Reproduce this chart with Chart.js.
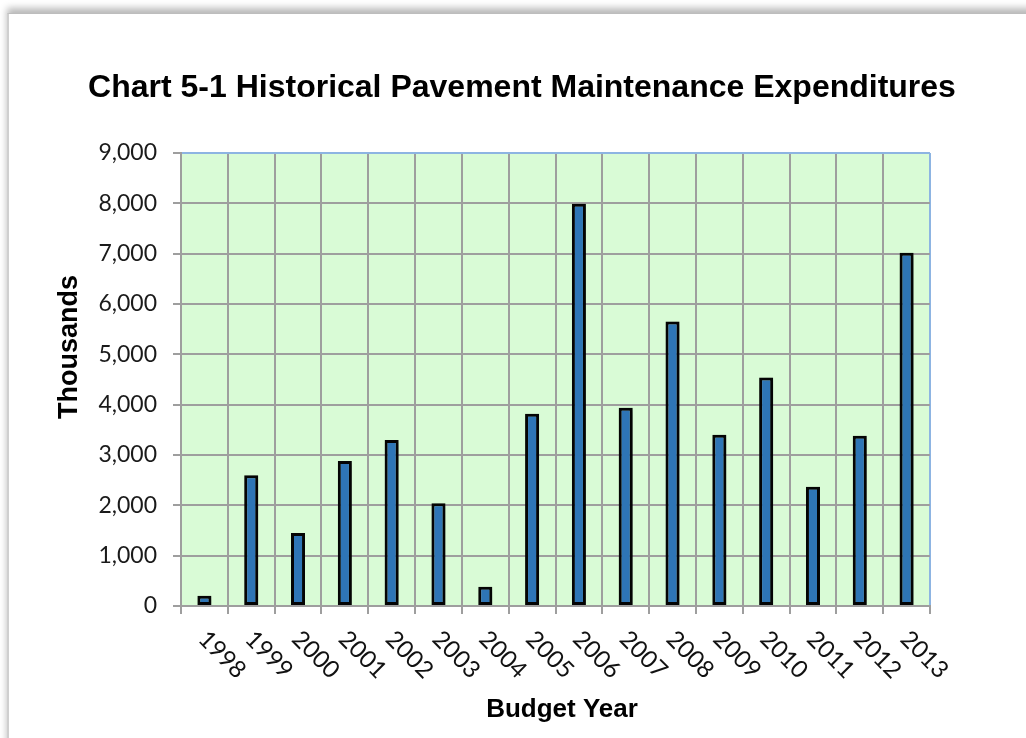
<!DOCTYPE html>
<html>
<head>
<meta charset="utf-8">
<script src="https://cdn.jsdelivr.net/npm/chart.js@4/dist/chart.umd.min.js"></script>
<style>
    html, body { margin: 0; padding: 0; background: #ffffff; width: 1026px; height: 738px; overflow: hidden; }
    #frame {
        position: absolute; left: 7px; top: 13px; width: 1030px; height: 740px;
        background: #ffffff;
        border-left: 2px solid #cfcfcf;
        border-top: 1px solid #bdbdbd;
        box-shadow: 0 -5px 7px rgba(0,0,0,0.28);
    }
    #chart { position: absolute; left: 0; top: 0; }
</style>
</head>
<body>
<div id="frame"></div>
<canvas id="chart" width="1026" height="738"></canvas>
<script>
    var titleText = 'Chart 5-1 Historical Pavement Maintenance Expenditures';
    var yTitle = 'Thousands';
    var xTitle = 'Budget Year';

    var years = ['1998', '1999', '2000', '2001', '2002', '2003', '2004', '2005',
                 '2006', '2007', '2008', '2009', '2010', '2011', '2012', '2013'];
    var expenditures = [205, 2600, 1450, 2880, 3300, 2040, 380, 3820,
                        7990, 3940, 5650, 3400, 4540, 2370, 3380, 7020];

    var yMin = 0;
    var yMax = 9000;
    var yStep = 1000;

    var gridGray = '#9e9e9e';
    var edgeBlue = '#8db4e2';

    // plot background, bar shadow and the hand drawn texts
    var decorPlugin = {
        id: 'decor',
        beforeDraw: function(chart) {
            var a = chart.chartArea;
            var ctx = chart.ctx;
            ctx.save();
            ctx.fillStyle = '#d9fbd6';
            ctx.fillRect(a.left, a.top, a.right - a.left, a.bottom - a.top);
            ctx.restore();
        },
        beforeDatasetDraw: function(chart) {
            var ctx = chart.ctx;
            ctx.save();
            ctx.shadowColor = 'rgba(0,0,0,0.35)';
            ctx.shadowBlur = 6;
            ctx.shadowOffsetX = 2;
            ctx.shadowOffsetY = 2;
        },
        afterDatasetDraw: function(chart) {
            chart.ctx.restore();
        },
        afterDraw: function(chart) {
            var ctx = chart.ctx;
            var a = chart.chartArea;
            var xs = chart.scales.x;
            ctx.save();
            ctx.fillStyle = '#000000';

            // title
            ctx.font = "bold 32px 'Liberation Sans', Arial, sans-serif";
            ctx.textAlign = 'center';
            ctx.textBaseline = 'middle';
            ctx.fillText(titleText, 522, 88);

            // y axis title
            ctx.save();
            ctx.translate(70, 347);
            ctx.rotate(-Math.PI / 2);
            ctx.font = "bold 27px 'Liberation Sans', Arial, sans-serif";
            ctx.fillText(yTitle, 0, 0);
            ctx.restore();

            // x axis title
            ctx.font = "bold 26px 'Liberation Sans', Arial, sans-serif";
            ctx.fillText(xTitle, 562, 710);

            // rotated year labels
            ctx.font = "24px Lato, 'Open Sans', sans-serif";
            ctx.fillStyle = '#111111';
            ctx.textAlign = 'left';
            ctx.textBaseline = 'middle';
            years.forEach(function(y, i) {
                var px = xs.getPixelForTick(i);
                ctx.save();
                ctx.translate(px - 2, a.bottom + 29);
                ctx.rotate(Math.PI / 4);
                ctx.fillText(y, 0, 0);
                ctx.restore();
            });
            ctx.restore();
        }
    };

    var ctx = document.getElementById('chart');
    new Chart(ctx, {
        type: 'bar',
        data: {
            labels: years,
            datasets: [{
                label: 'Expenditures',
                data: expenditures,
                backgroundColor: '#2e75b6',
                borderColor: '#050505',
                borderWidth: 3,
                borderSkipped: false,
                categoryPercentage: 1.0,
                barPercentage: 0.3
            }]
        },
        options: {
            responsive: false,
            animation: false,
            layout: {
                padding: { top: 153, right: 96, bottom: 0, left: 0 }
            },
            plugins: {
                legend: { display: false },
                title: { display: false },
                tooltip: { enabled: false }
            },
            scales: {
                x: {
                    grid: {
                        offset: true,
                        lineWidth: 2,
                        tickLength: 8,
                        tickColor: gridGray,
                        color: function(c) {
                            return c.index === undefined ? edgeBlue : gridGray;
                        }
                    },
                    border: { color: gridGray, width: 2 },
                    ticks: { display: false },
                    afterFit: function(scale) { scale.height = 132; }
                },
                y: {
                    min: yMin,
                    max: yMax,
                    grid: {
                        lineWidth: 2,
                        tickLength: 8,
                        tickColor: gridGray,
                        color: function(c) {
                            return c.tick && c.tick.value === yMax ? edgeBlue : gridGray;
                        }
                    },
                    border: { color: gridGray, width: 2 },
                    ticks: {
                        stepSize: yStep,
                        padding: 16,
                        color: '#1a1a1a',
                        font: { family: "Lato, 'Open Sans', sans-serif", size: 23 },
                        callback: function(v) { return v.toLocaleString('en-US'); }
                    },
                    afterFit: function(scale) { scale.width = 181; }
                }
            }
        },
        plugins: [decorPlugin]
    });
</script>
</body>
</html>
